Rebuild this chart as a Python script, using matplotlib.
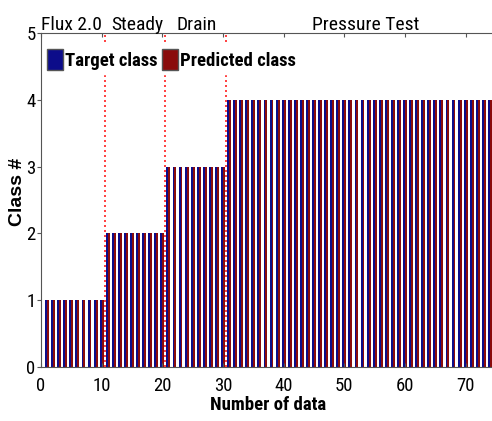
import matplotlib
matplotlib.use("Agg")
import matplotlib.pyplot as plt
import numpy as np
from matplotlib.patches import Patch
from matplotlib import font_manager

names = {f.name for f in font_manager.fontManager.ttflist}
candidates = ['Liberation Sans Narrow', 'Arial Narrow', 'Nimbus Sans Narrow', 'Roboto Condensed',
              'Archivo Narrow', 'PT Sans Narrow', 'Fira Sans Condensed', 'IBM Plex Sans Condensed',
              'Encode Sans Condensed', 'Sofia Sans Condensed', 'Open Sans Condensed',
              'Asap Condensed', 'Barlow Semi Condensed', 'Liberation Sans']
cond = next((c for c in candidates if c in names), 'DejaVu Sans')
plain = 'Liberation Sans' if 'Liberation Sans' in names else 'DejaVu Sans'
plt.rcParams['font.family'] = [cond, 'DejaVu Sans']

# Data
n_points = 75
data_index = np.arange(1, n_points + 1)
target_class = [1]*10 + [2]*10 + [3]*10 + [4]*45
predicted_class = [1]*10 + [2]*10 + [3]*10 + [4]*45
boundaries = [10.5, 20.5, 30.5]
section_labels = ["Flux 2.0", "Steady", "Drain", "Pressure Test"]
section_x = [0.0, 11.6, 22.3, 53.5]
section_ha = ["left", "left", "left", "center"]

fig = plt.figure(figsize=(4.92, 4.21), dpi=100)
ax = fig.add_axes([41/492, 54/421, 455/492, 334/421])

w = 0.32
ax.bar(data_index - w/2, target_class, width=w, color='#0c0c8a', label='Target class')
ax.bar(data_index + w/2, predicted_class, width=w, color='#8a0c0c', label='Predicted class')

for b in boundaries:
    ax.axvline(b, color='#ff2020', linestyle=(0, (1.2, 1.8)), linewidth=1.2, zorder=3)

ax.set_xlim(0, 75)
ax.set_ylim(0, 5)
ax.set_xticks(range(0, 80, 10))
ax.set_yticks(range(0, 6))
ax.tick_params(axis='both', labelsize=13.5, direction='in', length=3, color='#555555',
               top=True)
ax.tick_params(axis='x', pad=7)
ax.tick_params(axis='y', direction='out', length=3, pad=1)
for s in ['left', 'bottom', 'top']:
    ax.spines[s].set_color('#555555')
ax.spines['right'].set_visible(False)

ax.set_xlabel('Number of data', fontsize=13.5, fontweight='bold')
ax.xaxis.set_label_coords((268 - 41) / 455, -(405 - 367) / 334)
ax.xaxis.label.set_va('center')
ax.set_ylabel('Class #', fontsize=14, fontweight='bold', family=[plain, 'DejaVu Sans'])
ax.yaxis.set_label_coords((18 - 41) / 455, (367 - 192) / 334)
ax.yaxis.label.set_va('center')

for lab, x, ha in zip(section_labels, section_x, section_ha):
    ax.text(x, 5.045, lab, fontsize=14, ha=ha, va='baseline', transform=ax.transData)

handles = [Patch(facecolor='#0c0c8a', edgecolor='#555555'),
           Patch(facecolor='#8a0c0c', edgecolor='#555555')]
leg = ax.legend(handles, ['Target class', 'Predicted class'], ncol=2, loc='upper left',
                bbox_to_anchor=(0.0, 0.97), frameon=True, fancybox=False,
                prop={'weight': 'bold', 'size': 13.5, 'family': [cond, 'DejaVu Sans']},
                handlelength=0.85, handleheight=1.4, handletextpad=0.15, columnspacing=0.2,
                borderpad=0.2, borderaxespad=0.1)
leg.get_frame().set_edgecolor('white')
leg.get_frame().set_facecolor('white')
leg.get_frame().set_alpha(1)

fig.savefig('out.png', dpi=100)
